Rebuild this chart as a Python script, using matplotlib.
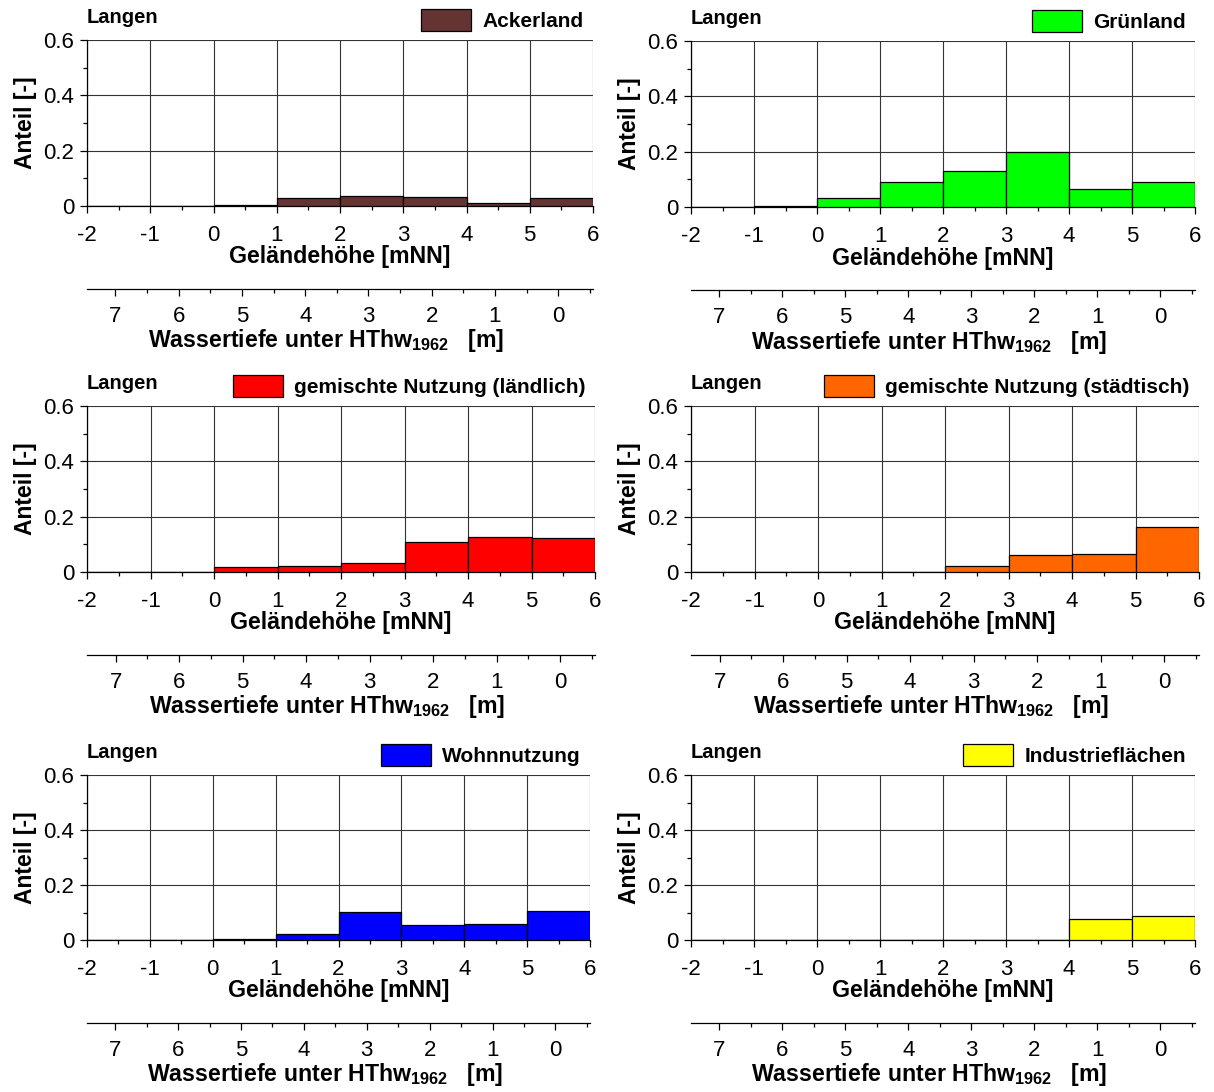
import numpy as np
import matplotlib.pyplot as plt
from matplotlib.ticker import MultipleLocator, FixedLocator

plt.rcParams['font.family'] = ['Liberation Sans', 'DejaVu Sans']
plt.rcParams['mathtext.fontset'] = 'custom'
plt.rcParams['mathtext.bf'] = 'Liberation Sans:bold'
plt.rcParams['mathtext.rm'] = 'Liberation Sans'

# data: share of area per 1 m height class (-2..6 mNN)
bin_edges = [-2, -1, 0, 1, 2, 3, 4, 5, 6]
ackerland = [0.0, 0.0, 0.002, 0.030, 0.037, 0.034, 0.011, 0.028]
gruenland = [0.0, 0.002, 0.033, 0.091, 0.130, 0.200, 0.065, 0.089]
gemischt_laendlich = [0.0, 0.0, 0.019, 0.023, 0.032, 0.107, 0.126, 0.122]
gemischt_staedtisch = [0.0, 0.0, 0.0, 0.0, 0.020, 0.061, 0.065, 0.162]
wohnnutzung = [0.0, 0.001, 0.005, 0.021, 0.101, 0.053, 0.057, 0.104]
industrie = [0.0, 0.0, 0.0, 0.0, 0.0, 0.0, 0.078, 0.086]

names = ['Ackerland', 'Grünland', 'gemischte Nutzung (ländlich)',
         'gemischte Nutzung (städtisch)', 'Wohnnutzung', 'Industrieflächen']
colors = ['#663333', '#00ff00', '#ff0000', '#ff6600', '#0000ff', '#ffff00']
series = [ackerland, gruenland, gemischt_laendlich, gemischt_staedtisch,
          wohnnutzung, industrie]

y_ticks = [0, 0.2, 0.4, 0.6]
y_tick_labels = ['0', '0.2', '0.4', '0.6']
x_ticks = [-2, -1, 0, 1, 2, 3, 4, 5, 6]
depth_ticks = [0, 1, 2, 3, 4, 5, 6, 7]
HTHW_1962 = 5.45   # mNN

W, H = 1214, 1092
# axes boxes in pixels: left, top, right, bottom
boxes = [(87, 40, 593, 206), (691, 41, 1195, 207),
         (87, 406, 595, 572), (691, 406, 1199, 572),
         (87, 775, 590, 940), (691, 775, 1195, 940)]

fig = plt.figure(figsize=(W / 100, H / 100), dpi=100)


def px_text(x_px, y_px, s, **kw):
    # text centred on a pixel position
    fig.text(x_px / W, 1 - y_px / H, s, ha='center', va='center',
             fontsize=16.7, fontweight='bold', **kw)


for (l, t, r, b), name, col, vals in zip(boxes, names, colors, series):
    ax = fig.add_axes([l / W, 1 - b / H, (r - l) / W, (b - t) / H])
    lefts = np.array(bin_edges[:-1])
    ax.bar(lefts, vals, width=1, align='edge', color=col,
           edgecolor='black', linewidth=0.9, zorder=3, label=name)
    ax.set_xlim(-2, 6)
    ax.set_ylim(0, 0.6)
    ax.set_xticks(x_ticks)
    ax.set_xticklabels([str(v) for v in x_ticks])
    ax.set_yticks(y_ticks)
    ax.set_yticklabels(y_tick_labels)
    ax.xaxis.set_minor_locator(MultipleLocator(0.5))
    ax.yaxis.set_minor_locator(FixedLocator([0.1, 0.3, 0.5]))
    ax.tick_params(which='major', length=5, width=0.9, labelsize=16)
    ax.tick_params(axis='x', which='major', pad=9)
    ax.tick_params(axis='y', which='major', pad=4)
    ax.tick_params(which='minor', length=3, width=0.9)
    ax.grid(True, which='major', color='#333333', linewidth=0.8, zorder=0)
    ax.set_axisbelow(True)
    for s in ['top', 'right']:
        ax.spines[s].set_visible(False)
    for s in ['left', 'bottom']:
        ax.spines[s].set_linewidth(0.9)
    px_text((l + r) / 2, b + 51, 'Geländehöhe [mNN]')
    ax.set_ylabel('Anteil [-]', fontsize=16.5, fontweight='bold', labelpad=5)
    ax.text(0, 1.135, 'Langen', transform=ax.transAxes, fontsize=14.5,
            fontweight='bold', ha='left', va='center')
    ax.legend(loc='lower right', bbox_to_anchor=(1.0, 1.0), frameon=False,
              handlelength=2.4, handleheight=1.25,
              handletextpad=0.55, borderaxespad=0.35, borderpad=0.1,
              prop={'weight': 'bold', 'size': 15})

    # second axis: water depth below HThw 1962
    y_sec = 1 - (b + 83) / H
    ax2 = fig.add_axes([l / W, y_sec, (r - l) / W, 0.0001])
    ax2.set_xlim(HTHW_1962 + 2, HTHW_1962 - 6)
    ax2.set_xticks(depth_ticks)
    ax2.set_xticklabels([str(v) for v in depth_ticks])
    ax2.xaxis.set_minor_locator(MultipleLocator(0.5))
    ax2.set_yticks([])
    ax2.patch.set_visible(False)
    for s in ['top', 'left', 'right']:
        ax2.spines[s].set_visible(False)
    ax2.spines['bottom'].set_linewidth(0.9)
    ax2.tick_params(which='major', length=5, width=0.9, labelsize=16, pad=7)
    ax2.tick_params(which='minor', length=3, width=0.9)
    px_text(l + 0.473 * (r - l), b + 135,
            r'Wassertiefe unter HThw$_{\mathbf{1962}}$   [m]')

fig.savefig('out.png', dpi=100)
